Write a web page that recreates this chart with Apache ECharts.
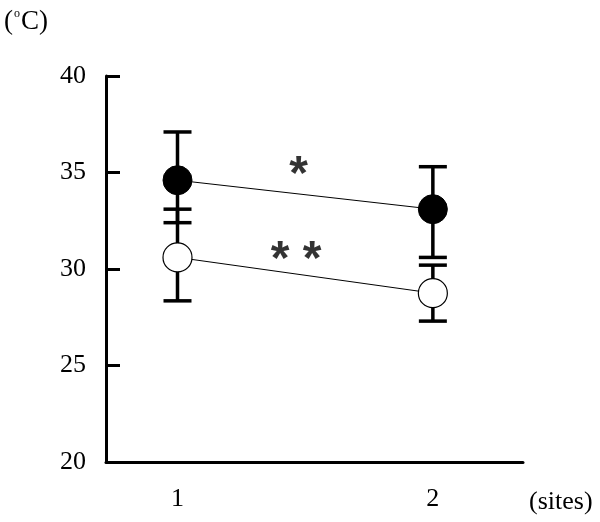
<!DOCTYPE html>
<html>
<head>
<meta charset="utf-8">
<script src="https://cdn.jsdelivr.net/npm/echarts@6/dist/echarts.min.js"></script>
<style>
  html, body { margin: 0; padding: 0; background: #fff; }
  #chart { width: 600px; height: 522px; }
</style>
</head>
<body>
<div id="chart"></div>
<script>
// data
const sites = [1, 2];
const filledMean = [34.6, 33.1];
const filledUpper = [37.1, 35.3];
const filledLower = [32.4, 30.6];
const openMean = [30.6, 28.75];
const openUpper = [33.1, 30.2];
const openLower = [28.35, 27.3];
const yTicks = [20, 25, 30, 35, 40];
// significance marks (x, y, text)
const sigMarks = [
  [1.474, 34.85, '*'],
  [1.464, 30.45, '* *']
];

const serif = '"Liberation Serif", "DejaVu Serif", serif';
const chartDom = document.getElementById('chart');
const myChart = echarts.init(chartDom);

function errorBar(params, api) {
  const x = api.value(0);
  const top = api.coord([x, api.value(1)]);
  const bot = api.coord([x, api.value(2)]);
  const hw = 14;
  const style = { stroke: '#000', lineWidth: 3.5 };
  return {
    type: 'group',
    children: [
      { type: 'line', shape: { x1: top[0], y1: top[1], x2: bot[0], y2: bot[1] }, style: style },
      { type: 'line', shape: { x1: top[0] - hw, y1: top[1], x2: top[0] + hw, y2: top[1] }, style: style },
      { type: 'line', shape: { x1: bot[0] - hw, y1: bot[1], x2: bot[0] + hw, y2: bot[1] }, style: style }
    ]
  };
}

const option = {
  animation: false,
  backgroundColor: '#fff',
  grid: { left: 106, right: 77, top: 76, bottom: 60 },
  xAxis: {
    type: 'value',
    min: 0.72,
    max: 2.353,
    axisLine: { lineStyle: { color: '#000', width: 3 } },
    axisTick: { show: false },
    splitLine: { show: false },
    axisLabel: {
      customValues: sites,
      margin: 24,
      color: '#000',
      fontSize: 26,
      fontFamily: serif
    }
  },
  yAxis: {
    type: 'value',
    min: yTicks[0],
    max: yTicks[yTicks.length - 1],
    interval: 5,
    axisLine: { show: true, lineStyle: { color: '#000', width: 3 } },
    axisTick: { show: true, inside: true, length: 14, lineStyle: { color: '#000', width: 3 } },
    splitLine: { show: false },
    axisLabel: { margin: 20, color: '#000', fontSize: 26, fontFamily: serif }
  },
  graphic: [
    {
      type: 'text', left: 4, top: 8,
      style: {
        text: '{a|(}{d|o}{a|C)}',
        fill: '#000',
        rich: {
          a: { fontSize: 27, fontFamily: serif, fill: '#000' },
          d: { fontSize: 12, fontFamily: serif, fill: '#000', verticalAlign: 'top', padding: [0, 1, 0, 1] }
        }
      }
    },
    { type: 'text', left: 529, top: 489, style: { text: '(sites)', font: '26px ' + serif, fill: '#000' } }
  ],
  series: [
    {
      type: 'custom',
      renderItem: errorBar,
      data: sites.map((s, i) => [s, filledUpper[i], filledLower[i]]),
      z: 1
    },
    {
      type: 'custom',
      renderItem: errorBar,
      data: sites.map((s, i) => [s, openUpper[i], openLower[i]]),
      z: 1
    },
    {
      type: 'line',
      data: sites.map((s, i) => [s, filledMean[i]]),
      symbol: 'circle',
      symbolSize: 29,
      lineStyle: { color: '#000', width: 1 },
      itemStyle: { color: '#000', borderColor: '#000', borderWidth: 1 },
      z: 3
    },
    {
      type: 'line',
      data: sites.map((s, i) => [s, openMean[i]]),
      symbol: 'circle',
      symbolSize: 29,
      lineStyle: { color: '#000', width: 1 },
      itemStyle: { color: '#fff', borderColor: '#000', borderWidth: 1.2 },
      z: 3
    },
    {
      type: 'scatter',
      data: sigMarks.map(m => ({ value: [m[0], m[1]], name: m[2] })),
      symbolSize: 0,
      label: {
        show: true,
        position: 'inside',
        formatter: p => p.name,
        color: '#000',
        fontSize: 48,
        fontWeight: 'bold',
        fontFamily: '"Liberation Sans", Arial, sans-serif'
      },
      z: 4
    }
  ]
};

myChart.setOption(option);
window.addEventListener('resize', myChart.resize);
</script>
</body>
</html>
